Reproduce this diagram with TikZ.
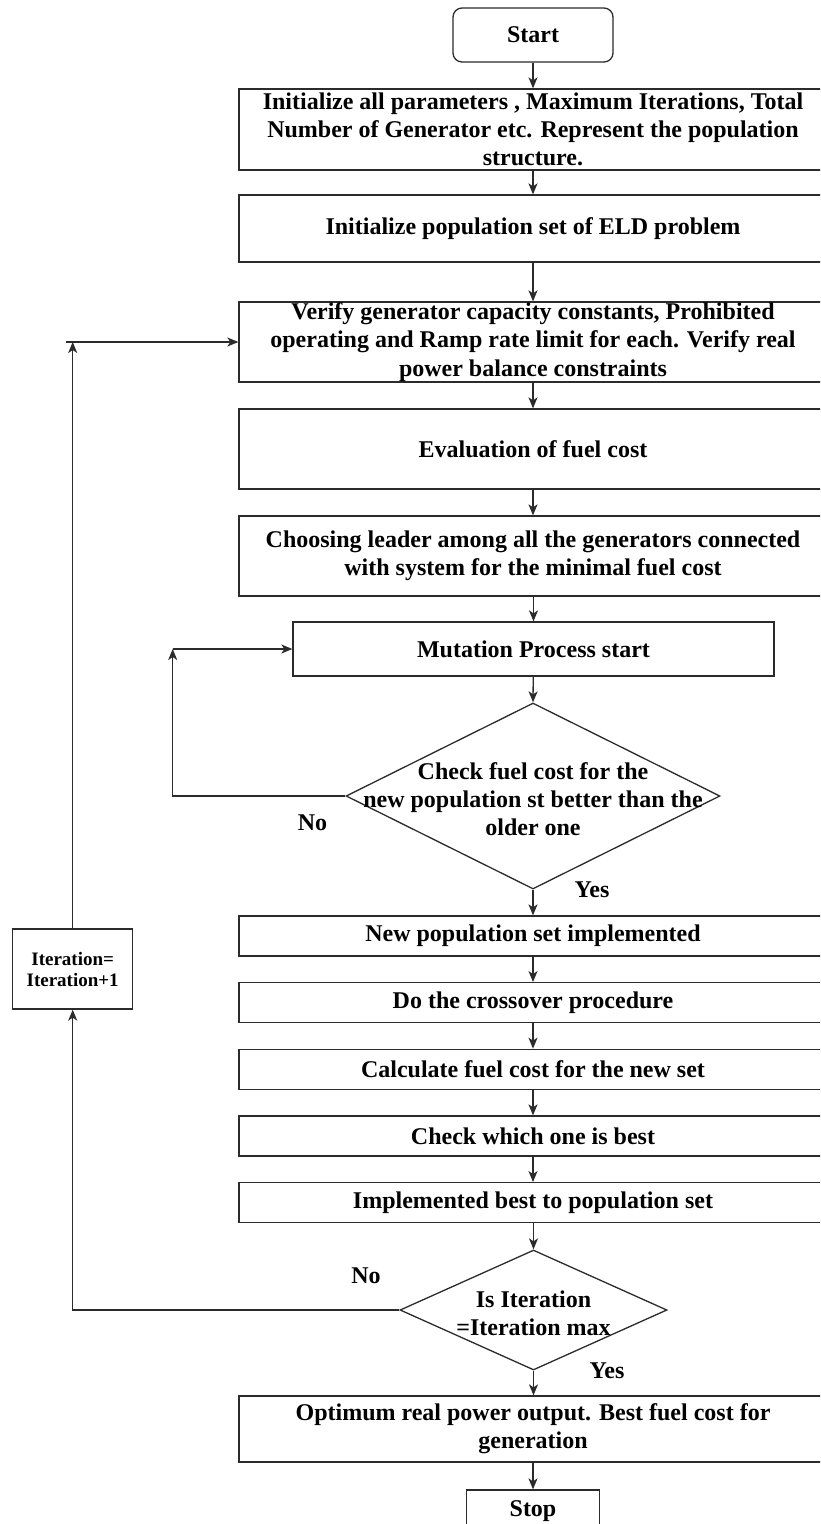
\documentclass[tikz,border=0pt]{standalone}
\usepackage{fontspec}
\setmainfont{Liberation Serif}
\usetikzlibrary{shapes.geometric,arrows.meta}
\definecolor{linec}{HTML}{2B2B2B}
\begin{document}
\begin{tikzpicture}[x=1pt,y=-1pt,
  font=\fontsize{24}{28.3}\selectfont\bfseries,
  line width=1.3pt,
  every node/.style={text=black},
  stepbox/.style={draw=linec, rectangle, inner sep=0pt, align=center, minimum width=588pt},
  smallbox/.style={draw=linec, rectangle, inner sep=0pt, align=center},
  decision/.style={draw=linec, diamond, inner sep=0pt},
  caption/.style={inner sep=0pt, align=center},
  flow/.style={draw=linec, -{Stealth[length=11pt,width=9pt,inset=3pt]}}
]
% page frame
\useasboundingbox (0,0) rectangle (820,1524);
\clip (0,0) rectangle (820,1524);
\fill[white] (0,0) rectangle (820,1524);

% main column
\node[smallbox, rounded corners=9pt, minimum width=160pt, minimum height=54pt] (start) at (533,35) {Start};
\node[stepbox, minimum height=81pt] (init) at (533,129.5)
  {Initialize all parameters , Maximum Iterations, Total\\ Number of Generator etc. Represent the population\\ structure.};
\node[stepbox, minimum height=67pt] (pop) at (533,228.5) {Initialize population set of ELD problem};
\node[stepbox, minimum height=80pt] (verify) at (533,342)
  {Verify generator capacity constants, Prohibited\\ operating and Ramp rate limit for each. Verify real\\ power balance constraints};
\node[stepbox, minimum height=80pt] (eval) at (533,449) {Evaluation of fuel cost};
\node[stepbox, minimum height=80pt] (leader) at (533,556)
  {Choosing leader among all the generators connected\\ with system for the minimal fuel cost};
\node[smallbox, minimum width=481pt, minimum height=54pt] (mut) at (533.5,649) {Mutation Process start};

\node[decision, minimum width=374pt, minimum height=186pt, aspect=2] (dec1) at (533,796) {};
\node[caption] (dec1txt) at (533,799)
  {Check fuel cost for the\\ new population st better than the\\ older one};

\node[stepbox, minimum height=40pt] (newpop) at (533,936) {New population set implemented};
\node[stepbox, minimum height=40pt] (cross) at (533,1002.7) {Do the crossover procedure};
\node[stepbox, minimum height=40pt] (calc) at (533,1069.3) {Calculate fuel cost for the new set};
\node[stepbox, minimum height=40pt] (best) at (533,1136) {Check which one is best};
\node[stepbox, minimum height=40pt] (impl) at (533,1202.7) {Implemented best to population set};

\node[decision, minimum width=267pt, minimum height=120pt, aspect=2.2] (dec2) at (533.5,1310) {};
\node[caption] (dec2txt) at (533.5,1313) {Is Iteration\\ =Iteration max};

\node[stepbox, minimum height=66pt] (final) at (533,1429)
  {Optimum real power output. Best fuel cost for\\ generation};
\node[smallbox, minimum width=133.5pt, minimum height=42pt] (stop) at (533,1511) {Stop};

% side counter box
\node[smallbox, minimum width=120pt, minimum height=80pt,
      font=\fontsize{19}{21}\selectfont\bfseries] (iter) at (72.7,969) {Iteration=\\ Iteration+1};

% branch labels
\node[caption, anchor=base] (no1) at (312.5,830) {No};
\node[caption, anchor=base] (yes1) at (592,897) {Yes};
\node[caption, anchor=base] (no2) at (366,1283) {No};
\node[caption, anchor=base] (yes2) at (607,1378) {Yes};

% straight-down connectors
\draw[flow] (start) -- (init);
\draw[flow] (init) -- (pop);
\draw[flow] (pop) -- (verify);
\draw[flow] (verify) -- (eval);
\draw[flow] (eval) -- (leader);
\draw[flow] (leader.south -| mut.south) -- (mut);
\draw[flow] (mut) -- (dec1.north);
\draw[flow] (dec1.south) -- (newpop);
\draw[flow] (newpop) -- (cross);
\draw[flow] (cross) -- (calc);
\draw[flow] (calc) -- (best);
\draw[flow] (best) -- (impl);
\draw[flow] (impl.south -| dec2.north) -- (dec2.north);
\draw[flow] (dec2.south) -- (final.north -| dec2.south);
\draw[flow] (final.south -| stop.north) -- (stop);

% inner loop: back to mutation
\coordinate (innerup) at (172.7,649);
\draw[flow] (dec1.west) -| (innerup);
\draw[flow] (innerup) -- (mut.west);

% outer loop: iteration counter back to the constraint check
\coordinate (outerup) at (iter.north |- verify.west);
\coordinate (outerstart) at ([xshift=-6.7pt]outerup);
\draw[flow] (dec2.west) -| (iter.south);
\draw[flow] (iter.north) -- (outerup);
\draw[flow] (outerstart) -- (verify.west);
\end{tikzpicture}
\end{document}
